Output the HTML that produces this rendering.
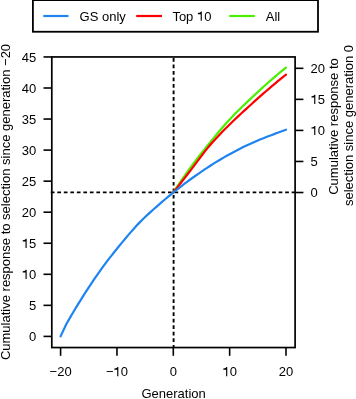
<!DOCTYPE html>
<html><head><meta charset="utf-8"><style>
html,body{margin:0;padding:0;background:#fff;}
body{width:356px;height:399px;overflow:hidden;}
svg{display:block;will-change:transform;}
text{font-family:"Liberation Sans", sans-serif;font-size:13px;fill:#000;}
.one{fill:transparent;}
</style></head><body>
<svg width="356" height="399" viewBox="0 0 356 399">
<rect x="0" y="0" width="356" height="399" fill="#fff"/>
<rect x="32.9" y="0.1" width="285.1" height="31.65" fill="none" stroke="#000" stroke-width="1.8"/>
<g stroke-width="2.2" stroke-linecap="butt">
<line x1="43.3" y1="16" x2="68.5" y2="16" stroke="#1f84f0"/>
<line x1="136.2" y1="16" x2="162" y2="16" stroke="#ff0000"/>
<line x1="229.3" y1="16" x2="254.8" y2="16" stroke="#4af000"/>
</g>
<text x="79.6" y="20.7">GS only</text>
<text x="172.4" y="20.7">Top <tspan class="one">1</tspan>0</text>
<text x="265.8" y="20.7">All</text>
<g stroke="#000" stroke-width="1.9" fill="none">
<line x1="50.8" y1="192.4" x2="295" y2="192.4" stroke-dasharray="3.7 2.81"/>
<line x1="173.6" y1="58.0" x2="173.6" y2="348" stroke-dasharray="3.7 2.82"/>
</g>
<g fill="none" stroke-width="2.2" stroke-linejoin="round" stroke-linecap="round">
<path d="M173.30,192.51 L176.12,188.23 L178.94,184.01 L181.75,179.87 L184.57,175.80 L187.39,171.82 L190.20,167.94 L193.02,164.13 L195.84,160.40 L198.66,156.73 L201.47,153.12 L204.29,149.56 L207.11,146.05 L209.93,142.57 L212.74,139.12 L215.56,135.69 L218.38,132.30 L221.20,128.96 L224.01,125.69 L226.83,122.52 L229.65,119.44 L232.47,116.47 L235.28,113.58 L238.10,110.77 L240.92,108.01 L243.74,105.30 L246.55,102.61 L249.37,99.92 L252.19,97.24 L255.01,94.59 L257.82,91.96 L260.64,89.35 L263.46,86.78 L266.28,84.25 L269.10,81.76 L271.91,79.30 L274.73,76.88 L277.55,74.50 L280.37,72.15 L283.18,69.84 L286.00,67.57" stroke="#4af000"/>
<path d="M173.30,192.51 L176.12,188.93 L178.94,185.34 L181.75,181.75 L184.57,178.14 L187.39,174.52 L190.20,170.89 L193.02,167.18 L195.84,163.41 L198.66,159.62 L201.47,155.87 L204.29,152.20 L207.11,148.66 L209.93,145.30 L212.74,142.09 L215.56,138.97 L218.38,135.95 L221.20,132.99 L224.01,130.10 L226.83,127.26 L229.65,124.45 L232.47,121.69 L235.28,118.99 L238.10,116.34 L240.92,113.73 L243.74,111.14 L246.55,108.58 L249.37,106.02 L252.19,103.46 L255.01,100.92 L257.82,98.40 L260.64,95.90 L263.46,93.42 L266.28,90.97 L269.10,88.55 L271.91,86.15 L274.73,83.79 L277.55,81.45 L280.37,79.13 L283.18,76.85 L286.00,74.59" stroke="#ff0000"/>
<path d="M60.60,336.40 L66.23,324.29 L69.05,319.38 L71.87,314.54 L74.69,309.79 L77.50,305.13 L80.32,300.58 L83.14,296.11 L85.96,291.70 L88.78,287.36 L91.59,283.09 L94.41,278.91 L97.23,274.82 L100.05,270.84 L102.86,266.96 L105.68,263.16 L108.50,259.45 L111.31,255.81 L114.13,252.24 L116.95,248.74 L119.77,245.28 L122.59,241.87 L125.40,238.48 L128.22,235.14 L131.04,231.87 L133.85,228.68 L136.67,225.59 L139.49,222.62 L142.31,219.78 L145.12,217.04 L147.94,214.40 L150.76,211.82 L153.58,209.30 L156.40,206.81 L159.21,204.34 L162.03,201.89 L164.85,199.48 L167.66,197.12 L170.48,194.80 L173.30,192.51 L176.12,190.26 L178.94,188.03 L181.75,185.82 L184.57,183.66 L187.39,181.55 L190.20,179.50 L193.02,177.49 L195.84,175.50 L198.66,173.53 L201.47,171.60 L204.29,169.69 L207.11,167.81 L209.93,165.97 L212.74,164.18 L215.56,162.42 L218.38,160.71 L221.20,159.05 L224.01,157.41 L226.83,155.81 L229.65,154.23 L232.47,152.69 L235.28,151.18 L238.10,149.70 L240.92,148.26 L243.74,146.86 L246.55,145.50 L249.37,144.19 L252.19,142.92 L255.01,141.69 L257.82,140.50 L260.64,139.34 L263.46,138.21 L266.28,137.10 L269.10,136.01 L271.91,134.94 L274.73,133.88 L277.55,132.82 L280.37,131.76 L283.18,130.73 L286.00,129.73" stroke="#1f84f0"/>
</g>
<rect x="51.8" y="56.95" width="243.3" height="290.6" fill="none" stroke="#000" stroke-width="1.7"/>
<g stroke="#000" stroke-width="1.6">
<line x1="43.5" y1="336.40" x2="52" y2="336.40"/><line x1="43.5" y1="305.35" x2="52" y2="305.35"/><line x1="43.5" y1="274.30" x2="52" y2="274.30"/><line x1="43.5" y1="243.25" x2="52" y2="243.25"/><line x1="43.5" y1="212.20" x2="52" y2="212.20"/><line x1="43.5" y1="181.15" x2="52" y2="181.15"/><line x1="43.5" y1="150.10" x2="52" y2="150.10"/><line x1="43.5" y1="119.05" x2="52" y2="119.05"/><line x1="43.5" y1="88.00" x2="52" y2="88.00"/><line x1="43.5" y1="56.95" x2="52" y2="56.95"/>
<line x1="295" y1="192.51" x2="303.4" y2="192.51"/><line x1="295" y1="161.46" x2="303.4" y2="161.46"/><line x1="295" y1="130.41" x2="303.4" y2="130.41"/><line x1="295" y1="99.36" x2="303.4" y2="99.36"/><line x1="295" y1="68.31" x2="303.4" y2="68.31"/>
<line x1="60.60" y1="347.5" x2="60.60" y2="355.8"/><line x1="116.95" y1="347.5" x2="116.95" y2="355.8"/><line x1="173.30" y1="347.5" x2="173.30" y2="355.8"/><line x1="229.65" y1="347.5" x2="229.65" y2="355.8"/><line x1="286.00" y1="347.5" x2="286.00" y2="355.8"/>
</g>
<text x="36.3" y="341.10" text-anchor="end">0</text><text x="36.3" y="310.05" text-anchor="end">5</text><text x="36.3" y="279.00" text-anchor="end"><tspan class="one">1</tspan>0</text><text x="36.3" y="247.95" text-anchor="end"><tspan class="one">1</tspan>5</text><text x="36.3" y="216.90" text-anchor="end">20</text><text x="36.3" y="185.85" text-anchor="end">25</text><text x="36.3" y="154.80" text-anchor="end">30</text><text x="36.3" y="123.75" text-anchor="end">35</text><text x="36.3" y="92.70" text-anchor="end">40</text><text x="36.3" y="61.65" text-anchor="end">45</text>
<text x="310.5" y="197.21">0</text><text x="310.5" y="166.16">5</text><text x="310.5" y="135.11"><tspan class="one">1</tspan>0</text><text x="310.5" y="104.06"><tspan class="one">1</tspan>5</text><text x="310.5" y="73.01">20</text>
<text x="60.60" y="376.2" text-anchor="middle">−20</text><text x="116.95" y="376.2" text-anchor="middle">−<tspan class="one">1</tspan>0</text><text x="173.30" y="376.2" text-anchor="middle">0</text><text x="229.65" y="376.2" text-anchor="middle"><tspan class="one">1</tspan>0</text><text x="286.00" y="376.2" text-anchor="middle">20</text>
<text x="173.6" y="398" text-anchor="middle">Generation</text>
<text transform="translate(10,202) rotate(-90)" text-anchor="middle">Cumulative response to selection since generation −20</text>
<text transform="translate(337.9,126.5) rotate(-90)" text-anchor="middle">Cumulative response to</text>
<text transform="translate(352.8,125.5) rotate(-90)" text-anchor="middle">selection since generation 0</text>
<g fill="#000"><path transform="translate(196.98,20.70) scale(0.013,-0.013)" d="M284,0 L372,0 L372,709 L305,709 C282,648 232,600 70,590 L70,505 L284,505 Z"/><path transform="translate(21.83,279.00) scale(0.013,-0.013)" d="M284,0 L372,0 L372,709 L305,709 C282,648 232,600 70,590 L70,505 L284,505 Z"/><path transform="translate(21.83,247.95) scale(0.013,-0.013)" d="M284,0 L372,0 L372,709 L305,709 C282,648 232,600 70,590 L70,505 L284,505 Z"/><path transform="translate(310.50,135.11) scale(0.013,-0.013)" d="M284,0 L372,0 L372,709 L305,709 C282,648 232,600 70,590 L70,505 L284,505 Z"/><path transform="translate(310.50,104.06) scale(0.013,-0.013)" d="M284,0 L372,0 L372,709 L305,709 C282,648 232,600 70,590 L70,505 L284,505 Z"/><path transform="translate(113.51,376.20) scale(0.013,-0.013)" d="M284,0 L372,0 L372,709 L305,709 C282,648 232,600 70,590 L70,505 L284,505 Z"/><path transform="translate(222.42,376.20) scale(0.013,-0.013)" d="M284,0 L372,0 L372,709 L305,709 C282,648 232,600 70,590 L70,505 L284,505 Z"/></g>
</svg>
</body></html>
